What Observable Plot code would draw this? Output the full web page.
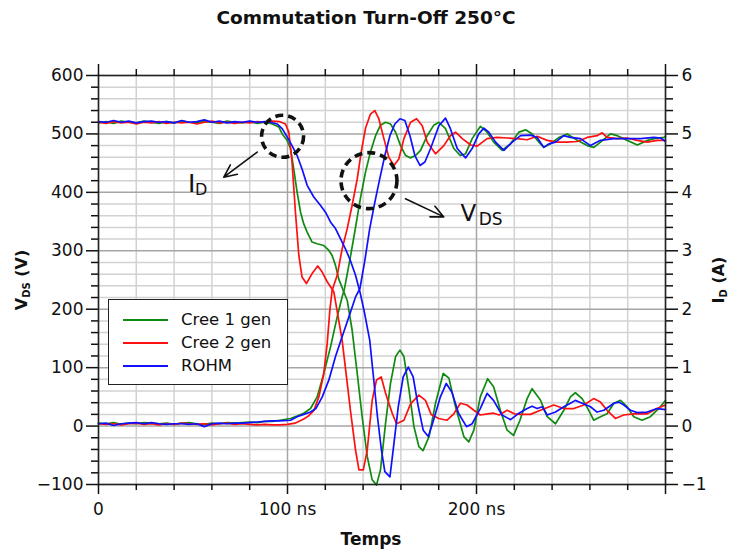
<!DOCTYPE html>
<html><head><meta charset="utf-8">
<script src="https://cdn.jsdelivr.net/npm/d3@7"></script>
<script src="https://cdn.jsdelivr.net/npm/@observablehq/plot@0.6"></script>
<style>
body{margin:0;background:#fff;font-family:"DejaVu Sans",sans-serif;}
#wrap{position:relative;width:732px;height:552px;overflow:hidden;background:#fff;}
#title{position:absolute;left:0;top:7px;width:732px;text-align:center;font-weight:bold;font-size:18.5px;line-height:22px;color:#111;}
#chart{position:absolute;left:0;top:40px;}
#legend{position:absolute;left:108px;top:299px;width:180px;height:86px;border:1.5px solid #222;background:#fff;box-sizing:border-box;}
.lg{position:absolute;left:0;height:22px;width:178px;}
.lg .sw{position:absolute;left:14px;top:10px;width:45px;height:0;border-top:2px solid;}
.lg .tx{position:absolute;left:72px;top:0;font-size:16.5px;line-height:22px;color:#111;white-space:nowrap;}
</style></head>
<body>
<div id="wrap">
  <div id="title">Commutation Turn-Off 250°C</div>
  <div id="chart"></div>
  <div id="legend"></div>
</div>
<script>
// ---- data (t in ns) ----
const seriesNames = ["Cree 1 gen", "Cree 2 gen", "ROHM"];
const seriesColors = ["#118a11", "#ff1010", "#1010ff"];

// V_DS in volts
const cree1V = [[0,5],[4,4],[8,6],[12,3],[16,5],[20,4],[24,6],[28,5],[32,4],[36,5],[40,3],[44,5],[48,6],[52,4],[56,3],[60,5],[64,4],[68,6],[72,5],[76,6],[80,7],[84,6],[88,8],[92,8],[96,10],[101.6,13],[105,17],[108.6,22],[112.2,30],[115.7,50],[119.2,90],[122.8,136],[126.3,187],[128.9,221],[130.2,236],[133.3,290],[136,340],[138.6,390],[141.3,435],[143.9,469],[146.6,497],[149.2,515],[151.9,520],[154.5,517],[157.2,503],[159.8,480],[162.5,463],[165.1,459],[167.7,463],[170.4,472],[173.9,497],[177.4,515],[180.1,520],[183.6,509],[188,475],[191.5,463],[194.2,466],[197.7,492],[202.1,513],[205.6,503],[209.1,486],[213.6,472],[218,483],[222.4,503],[226,507],[229.5,500],[233,486],[235.6,477],[239.2,483],[243.6,494],[248,500],[253.3,489],[258.6,480],[262.1,477],[265.6,486],[270.9,500],[274.5,497],[279.8,489],[285.1,481],[290.4,489],[293.9,492],[299.2,494],[300,496]];
const cree2V = [[0,4],[4,3],[8,4],[12,2],[16,4],[20,5],[24,3],[28,4],[32,2],[36,4],[40,3],[44,5],[48,4],[52,3],[56,4],[60,2],[64,4],[68,5],[72,3],[76,4],[80,3],[84,2],[88,3],[92,2],[96,2],[100,3],[104,5],[108.6,12],[111,17],[114,27],[116.6,50],[119.2,90],[121,141],[122.4,198],[123.6,232],[126.3,258],[128.9,303],[131.6,338],[134.2,378],[136.9,423],[139,469],[141.3,510],[143.9,534],[146.2,540],[148.3,526],[151,492],[153.6,460],[156.3,446],[158.9,457],[161.6,492],[165.1,520],[168.3,526],[171.3,514],[173.9,486],[178.3,466],[182.7,480],[186.2,497],[188.9,503],[192.5,492],[196.9,481],[200.4,479],[205.6,492],[210.9,494],[216.2,493],[221.5,492],[226.8,490],[232.1,496],[237.4,489],[242.7,486],[248,486],[253.3,487],[258.6,494],[263.8,497],[266.5,502],[269.1,494],[274.4,492],[279.7,493],[285,489],[290.3,486],[295.6,489],[300,489]];
const rohmV = [[0,4],[4,5],[8,1],[12,4],[16,5],[20,6],[24,4],[28,6],[32,4],[36,3],[40,4],[44,4],[48,3],[52,4],[56,-1],[60,4],[64,5],[68,4],[72,5],[76,5],[80,6],[84,7],[88,8],[92,9],[96,9],[101.6,10],[105.1,16],[108.6,20],[112.2,24],[115,30],[118.4,50],[121.9,79],[125.4,119],[128.9,153],[132.5,187],[136,221],[138.3,235],[140.8,281],[143.5,338],[146.2,383],[148.8,423],[151.5,463],[154.2,497],[156.8,517],[159.5,526],[162.1,523],[164.8,497],[167.4,463],[170.1,446],[172.7,452],[175.7,475],[180.1,514],[183.6,527],[186.2,509],[189.8,475],[194.2,459],[197.7,475],[201.2,500],[203.9,510],[206.5,503],[210.1,486],[214.5,472],[218.9,486],[223.3,497],[228.6,498],[232.1,494],[235.6,477],[238.3,483],[241.8,486],[246.2,497],[249.7,494],[255,492],[260.3,480],[265.6,489],[272.7,492],[279.8,492],[286.8,492],[293.9,494],[297.5,493],[300,487]];

// I_D in amperes
const cree1I = [[0,5.19],[4,5.21],[8,5.18],[12,5.22],[16,5.2],[20,5.19],[24,5.22],[28,5.2],[32,5.18],[36,5.21],[40,5.19],[44,5.22],[48,5.2],[52,5.19],[56,5.21],[60,5.2],[64,5.18],[68,5.22],[72,5.2],[76,5.19],[80,5.21],[84,5.18],[88,5.2],[92,5.17],[95.4,5.12],[97.2,5.0],[99.8,4.89],[101.6,4.75],[103.3,4.4],[105.1,4.0],[106.9,3.66],[108.6,3.46],[110.4,3.32],[113,3.15],[115.7,3.12],[119.2,3.09],[121.8,3.01],[123.6,2.92],[125.4,2.75],[127.1,2.52],[129.5,2.32],[131.6,2.15],[134.2,1.64],[136.9,0.9],[139.5,0.16],[142.2,-0.52],[144.8,-0.92],[147.1,-1.01],[149.2,-0.75],[151.9,0.05],[154.5,0.73],[157.2,1.19],[159.5,1.3],[161.6,1.19],[164.3,0.62],[166.9,-0.01],[169.5,-0.35],[171.7,-0.42],[174.9,-0.18],[178.3,0.39],[182.4,0.9],[185.4,0.82],[188.9,0.33],[193.3,-0.18],[195.9,-0.27],[198.6,-0.07],[202,0.5],[205.9,0.81],[209.1,0.67],[212.6,0.27],[216.2,-0.07],[219.6,-0.16],[223,0.1],[226.8,0.47],[229.4,0.64],[233.9,0.44],[237.4,0.16],[241.8,0.04],[246.2,0.27],[249.7,0.5],[252.3,0.57],[255.9,0.47],[259.4,0.27],[262,0.1],[265.6,0.16],[269.1,0.21],[272.7,0.39],[276.2,0.44],[279.7,0.33],[283.2,0.16],[287.6,0.1],[292,0.16],[297.3,0.33],[300,0.44]];
const cree2I = [[0,5.2],[4,5.18],[8,5.21],[12,5.19],[16,5.2],[20,5.17],[24,5.2],[28,5.19],[32,5.21],[36,5.18],[40,5.2],[44,5.19],[48,5.2],[52,5.17],[56,5.2],[60,5.22],[64,5.19],[68,5.2],[72,5.18],[76,5.2],[80,5.19],[84,5.21],[88,5.2],[92,5.22],[96,5.21],[98.9,5.17],[100.7,5.03],[102.4,4.52],[104.2,3.66],[106,2.92],[107.7,2.55],[110,2.44],[113,2.61],[116,2.74],[118.3,2.64],[121,2.47],[124.5,2.3],[128.9,1.47],[133.3,0.27],[136,-0.41],[137.8,-0.75],[140.1,-0.75],[142.2,-0.41],[144.8,0.44],[147.1,0.79],[149.6,0.84],[151.9,0.56],[155.4,0.22],[157.7,0.04],[161.6,0.1],[165.1,0.38],[169.5,0.53],[173,0.44],[176,0.2],[180,0.13],[184.4,0.1],[188,0.21],[191.5,0.39],[195,0.36],[198.6,0.27],[202,0.19],[206,0.21],[209,0.22],[212,0.19],[216.2,0.27],[220,0.21],[223.3,0.2],[228.6,0.2],[233.8,0.27],[240.9,0.36],[246.2,0.3],[251.5,0.3],[256.8,0.36],[262,0.47],[265.6,0.41],[269.1,0.27],[273.5,0.13],[277.9,0.19],[283.2,0.21],[290.3,0.21],[295.5,0.3],[300,0.36]];
const rohmI = [[0,5.21],[4,5.2],[8,5.23],[12,5.2],[16,5.22],[20,5.19],[24,5.21],[28,5.22],[32,5.2],[36,5.21],[40,5.19],[44,5.23],[48,5.2],[52,5.21],[56,5.24],[60,5.2],[64,5.22],[68,5.19],[72,5.21],[76,5.2],[80,5.22],[84,5.2],[88,5.21],[91,5.2],[94.5,5.17],[97.2,5.09],[99.8,4.95],[102.4,4.8],[105.1,4.63],[107.7,4.4],[110.4,4.12],[113.9,3.92],[117.4,3.78],[120.1,3.66],[122.8,3.49],[125.4,3.38],[128,3.21],[130.7,3.03],[133.3,2.83],[136,2.58],[138.3,2.3],[140.8,1.93],[143.5,1.47],[145.3,0.9],[147.6,0.16],[149.7,-0.41],[151.5,-0.78],[154.2,-0.87],[155.9,-0.41],[158.6,0.33],[161.2,0.84],[163.9,1.01],[166.5,0.84],[169.2,0.33],[171.8,-0.07],[174.5,-0.18],[176.7,0.04],[180.9,0.5],[184,0.73],[187,0.58],[190.5,0.22],[194.7,-0.01],[197.7,0.04],[202,0.3],[205.6,0.56],[209,0.44],[213.5,0.19],[218,0.11],[222,0.21],[226.8,0.3],[229.4,0.34],[232.1,0.3],[234.8,0.33],[237.4,0.19],[241.8,0.24],[246.2,0.33],[249.7,0.39],[252.3,0.44],[255.9,0.39],[260.3,0.33],[263.8,0.24],[267.4,0.27],[272.7,0.39],[275.3,0.41],[278,0.36],[281.5,0.27],[285,0.23],[290.3,0.24],[295.6,0.3],[300,0.28]];

// axis ticks
const xMajor = [0, 100, 200, 300];
const xMinor = [20, 40, 60, 80, 120, 140, 160, 180, 220, 240, 260, 280];
const yMajor = [-100, 0, 100, 200, 300, 400, 500, 600];
const yMinor = d3.range(-80, 600, 20).filter(v => v % 100 !== 0);
const ampPerVoltUnit = 100; // right axis: 1 A spans the same height as 100 V

// ---- build table ----
const vSets = [cree1V, cree2V, rohmV];
const iSets = [cree1I, cree2I, rohmI];
const rows = [];
seriesNames.forEach((name, k) => {
  vSets[k].forEach(([t, v]) => rows.push({series: name, trace: "V", t, y: v}));
  iSets[k].forEach(([t, a]) => rows.push({series: name, trace: "I", t, y: a * ampPerVoltUnit}));
});

const minus = s => String(s).replace("-", "\u2212");
const font = "DejaVu Sans";

const lineMarks = [];
seriesNames.forEach((name, k) => {
  for (const tr of ["I", "V"]) {
    lineMarks.push(Plot.line(rows.filter(r => r.series === name && r.trace === tr),
      {x: "t", y: "y", stroke: seriesColors[k], strokeWidth: 1.7}));
  }
});

const noText = () => "";
const chart = Plot.plot({
  width: 732, height: 512,
  marginTop: 35, marginBottom: 68, marginLeft: 98, marginRight: 67,
  x: {domain: [0, 300]},
  y: {domain: [-100, 600]},
  style: {fontFamily: font, fontSize: "17px", background: "white", color: "#111", overflow: "visible"},
  marks: [
    Plot.gridY(yMinor, {stroke: "#d2d2d2", strokeOpacity: 1, strokeWidth: 1.5}),
    Plot.gridX(xMinor, {stroke: "#d2d2d2", strokeOpacity: 1, strokeWidth: 1.5}),
    Plot.gridY(yMajor, {stroke: "#a6a6a6", strokeOpacity: 1, strokeWidth: 1.5}),
    Plot.gridX(xMajor, {stroke: "#a6a6a6", strokeOpacity: 1, strokeWidth: 1.5}),
    ...lineMarks,
    Plot.frame({stroke: "#222", strokeWidth: 1.5}),
    Plot.axisY(yMajor, {anchor: "left", tickSize: 12, tickPadding: 3, strokeWidth: 1.5, tickFormat: d => minus(d), label: null, fontSize: 17}),
    Plot.axisY(yMinor, {anchor: "left", tickSize: 7, strokeWidth: 1.5, tickFormat: noText, label: null}),
    Plot.axisY(yMajor, {anchor: "right", tickSize: 12, tickPadding: 4, strokeWidth: 1.5, tickFormat: d => minus(d / ampPerVoltUnit), label: null, fontSize: 17}),
    Plot.axisY(yMinor, {anchor: "right", tickSize: 7, strokeWidth: 1.5, tickFormat: noText, label: null}),
    Plot.axisX(xMajor, {anchor: "bottom", tickSize: 10, tickPadding: 8, strokeWidth: 1.5, tickFormat: d => d === 0 ? "0" : d === 300 ? "" : d + " ns", label: null, fontSize: 17}),
    Plot.axisX(xMinor, {anchor: "bottom", tickSize: 6, strokeWidth: 1.5, tickFormat: noText, label: null}),
    Plot.axisX(xMajor, {anchor: "top", tickSize: 12, strokeWidth: 1.5, tickFormat: noText, label: null}),
    Plot.axisX(xMinor, {anchor: "top", tickSize: 7, strokeWidth: 1.5, tickFormat: noText, label: null}),
    // annotations
    Plot.dot([{t: 97.4, y: 496}], {x: "t", y: "y", r: 21, stroke: "#111", strokeWidth: 3.6, strokeDasharray: "8,5", fill: "none"}),
    Plot.dot([{t: 143.1, y: 420}], {x: "t", y: "y", r: 28, stroke: "#111", strokeWidth: 3.6, strokeDasharray: "8,5", fill: "none"}),
    Plot.arrow([{x1: 84, y1: 469, x2: 66.3, y2: 426}], {x1: "x1", y1: "y1", x2: "x2", y2: "y2", stroke: "#111", strokeWidth: 1.6, headLength: 13, headAngle: 50}),
    Plot.arrow([{x1: 162.4, y1: 389, x2: 182.7, y2: 358}], {x1: "x1", y1: "y1", x2: "x2", y2: "y2", stroke: "#111", strokeWidth: 1.6, headLength: 13, headAngle: 50}),
    Plot.text(["I"], {x: 47.3, y: 415, text: d => d, fontSize: 25, textAnchor: "start", fill: "#111"}),
    Plot.text(["D"], {x: 51, y: 405, text: d => d, fontSize: 16, textAnchor: "start", fill: "#111"}),
    Plot.text(["V"], {x: 191.5, y: 363, text: d => d, fontSize: 23, textAnchor: "start", fill: "#111"}),
    Plot.text(["DS"], {x: 201.2, y: 354, text: d => d, fontSize: 17, textAnchor: "start", fill: "#111"})
  ]
});
document.getElementById("chart").appendChild(chart);

// axis titles with subscripts
const svg = d3.select(chart);
function rotLabel(x, y, main, sub, rest) {
  const t = svg.append("text")
    .attr("transform", `translate(${x},${y}) rotate(-90)`)
    .attr("text-anchor", "middle")
    .attr("font-family", font).attr("font-weight", "bold").attr("font-size", 16).attr("fill", "#111");
  t.append("tspan").text(main);
  t.append("tspan").attr("font-size", 10).attr("dy", 3).text(sub);
  t.append("tspan").attr("dy", -3).text(rest);
}
rotLabel(27, 240, "V", "DS", " (V)");
rotLabel(724, 240, "I", "D", " (A)");
svg.append("text").attr("x", 371).attr("y", 505).attr("text-anchor", "middle")
  .attr("font-family", font).attr("font-weight", "bold").attr("font-size", 17).attr("fill", "#111")
  .text("Temps");

// legend
const lg = d3.select("#legend");
seriesNames.forEach((name, k) => {
  const row = lg.append("div").attr("class", "lg").style("top", (9 + k * 23) + "px");
  row.append("div").attr("class", "sw").style("border-top-color", seriesColors[k]);
  row.append("div").attr("class", "tx").text(name);
});
</script>
</body></html>
